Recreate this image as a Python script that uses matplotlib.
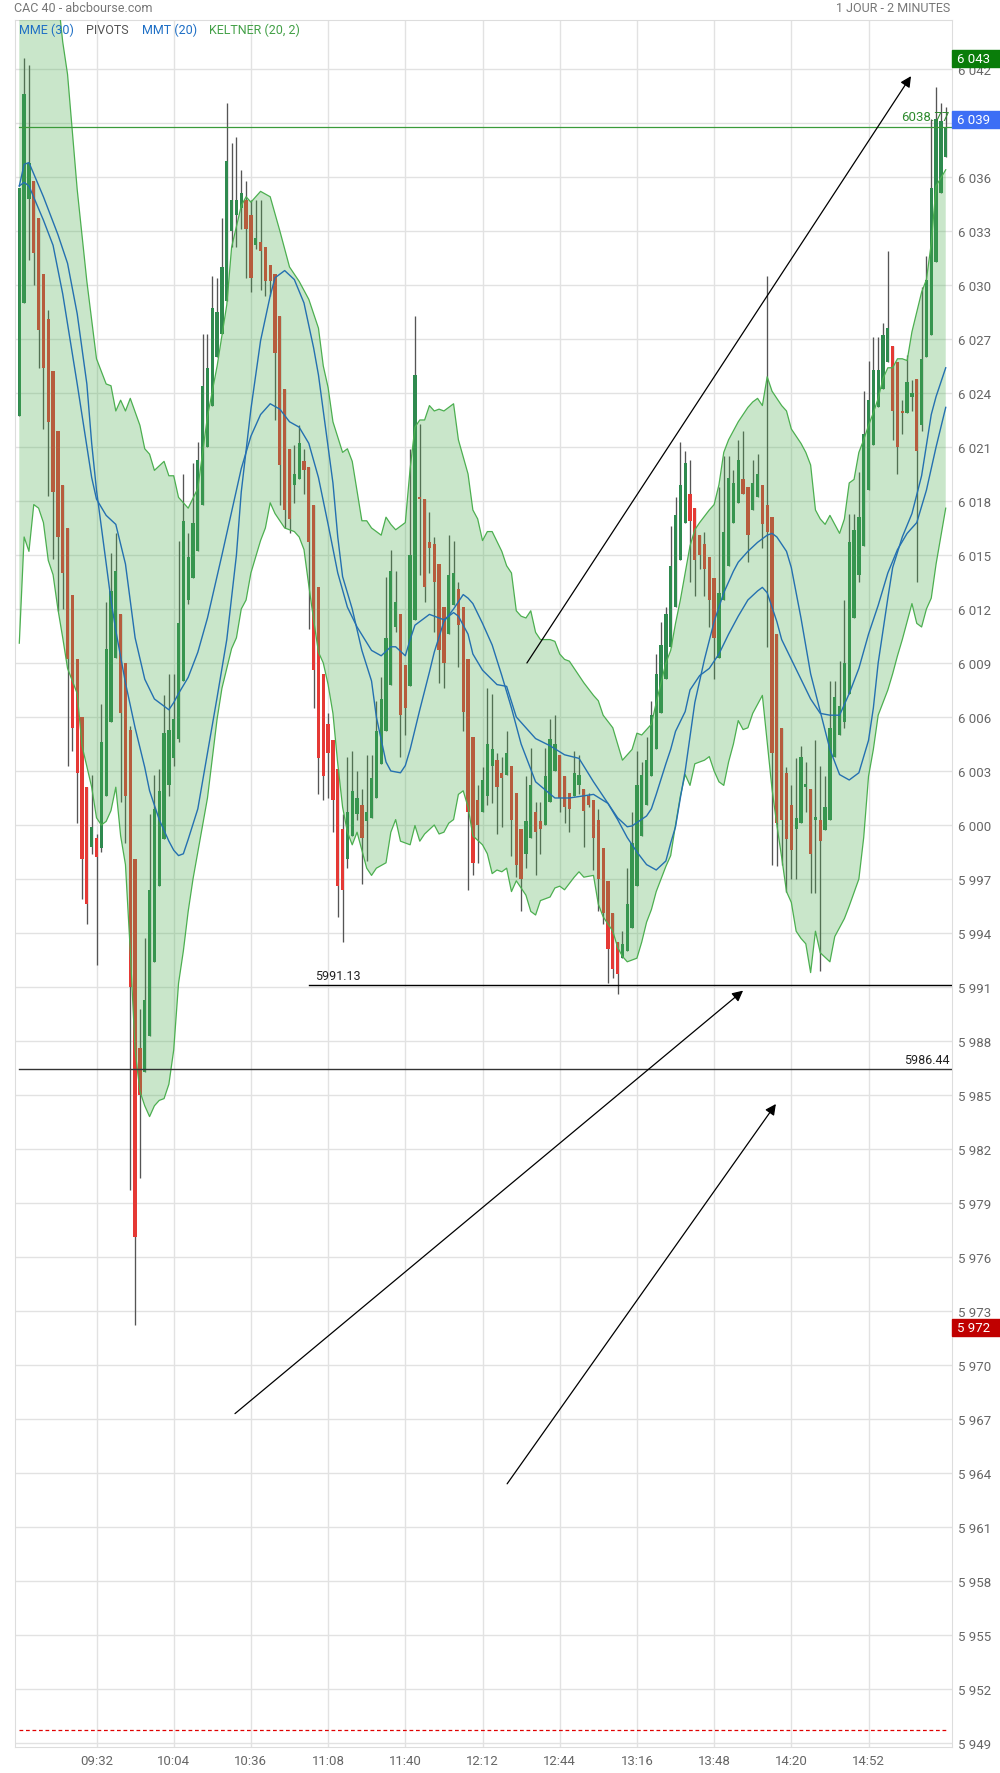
import numpy as np
import matplotlib.pyplot as plt
from matplotlib.patches import Rectangle
import matplotlib.transforms as mtransforms

plt.rcParams['font.family'] = ['Roboto', 'DejaVu Sans']

# CAC 40, bougies de 2 minutes : indice 0 = 09:00, indice 192 = 15:24
opens = [6022.7, 6029.0, 6034.8, 6035.8, 6033.7, 6030.6, 6028.1, 6025.2, 6021.9, 6018.9,
         6016.5, 6012.8, 6009.2, 6006.0, 6002.1, 5998.8, 5999.3, 5998.7, 6001.6, 6005.7,
         6009.3, 6011.7, 6009.0, 6005.3, 5998.1, 5987.6, 5986.3, 5988.3, 5992.4, 5996.6,
         5999.2, 6002.2, 6003.7, 6004.8, 6008.0, 6012.5, 6013.7, 6015.2, 6017.8, 6021.0,
         6023.3, 6026.0, 6027.3, 6029.1, 6033.0, 6033.9, 6034.3, 6034.7, 6033.9, 6032.2,
         6032.4, 6032.1, 6031.1, 6030.6, 6028.3, 6024.2, 6020.9, 6018.9, 6019.2, 6020.2,
         6019.9, 6017.8, 6013.2, 6008.4, 6005.6, 6004.7, 6003.1, 5999.8, 5998.1, 5999.4,
         6000.6, 6001.1, 6000.2, 6000.4, 6001.5, 6003.4, 6005.2, 6007.8, 6011.0, 6011.7,
         6008.9, 6007.7, 6011.4, 6018.2, 6018.1, 6015.7, 6015.6, 6014.5, 6012.1, 6010.6,
         6012.2, 6013.1, 6012.1, 6009.2, 6004.9, 6001.4, 6000.7, 6001.6, 6003.3, 6003.6,
         6002.9, 6002.8, 6003.3, 6001.8, 5999.8, 5998.4, 5999.3, 6000.7, 6000.2, 6000.0,
         6001.3, 6003.0, 6003.9, 6002.7, 6001.8, 6001.6, 6002.2, 6002.0, 6001.6, 6001.4,
         6000.3, 5998.7, 5996.9, 5995.1, 5993.5, 5992.6, 5993.0, 5994.3, 5996.6, 5999.4,
         6001.1, 6002.7, 6004.2, 6006.2, 6008.1, 6009.9, 6012.1, 6014.7, 6016.8, 6018.4,
         6017.6, 6016.1, 6015.6, 6014.9, 6013.7, 6009.3, 6012.5, 6014.4, 6016.8, 6017.9,
         6019.2, 6018.8, 6017.5, 6018.2, 6018.9, 6017.8, 6017.1, 6010.6, 6005.4, 6002.9,
         6001.1, 5999.8, 6000.1, 6002.1, 6002.0, 6000.3, 6000.3, 5999.7, 6000.3, 6003.8,
         6005.0, 6005.7, 6007.3, 6011.5, 6013.9, 6015.5, 6018.6, 6021.1, 6023.2, 6024.2,
         6025.7, 6026.6, 6025.7, 6023.0, 6022.9, 6023.8, 6024.8, 6022.2, 6026.0, 6027.2,
         6031.3, 6035.1, 6037.1]
highs = [6035.4, 6042.6, 6042.2, 6035.8, 6033.7, 6030.6, 6028.6, 6025.2, 6021.9, 6018.9,
         6016.5, 6012.8, 6009.2, 6006.0, 6002.1, 6002.8, 5999.5, 6006.7, 6012.4, 6015.1,
         6016.2, 6011.7, 6009.0, 6005.5, 5998.1, 5989.8, 5993.7, 6000.6, 6002.8, 6003.1,
         6007.2, 6008.4, 6008.4, 6015.8, 6019.5, 6016.2, 6020.1, 6021.3, 6027.3, 6027.3,
         6030.5, 6030.4, 6033.7, 6040.1, 6037.9, 6038.2, 6036.4, 6035.8, 6034.7, 6034.7,
         6034.7, 6032.1, 6031.1, 6030.6, 6028.3, 6024.2, 6020.9, 6021.1, 6022.2, 6020.9,
         6019.9, 6017.8, 6013.2, 6008.4, 6006.2, 6004.7, 6003.1, 6000.6, 6003.8, 6004.1,
         6003.0, 6002.0, 6003.9, 6003.9, 6006.9, 6008.2, 6013.8, 6015.3, 6014.1, 6011.7,
         6008.9, 6020.9, 6028.3, 6022.3, 6018.1, 6017.4, 6016.0, 6014.5, 6012.1, 6016.1,
         6015.8, 6013.5, 6012.1, 6009.2, 6004.9, 6002.2, 6003.2, 6007.6, 6007.3, 6004.0,
         6003.8, 6005.2, 6003.3, 6001.8, 5999.8, 6002.7, 6004.3, 6001.3, 6001.3, 6004.3,
         6005.9, 6006.1, 6003.9, 6002.7, 6001.8, 6004.1, 6003.9, 6002.0, 6001.8, 6001.4,
         6000.9, 5998.7, 5996.9, 5995.1, 5993.5, 5994.1, 5997.6, 6000.7, 6004.1, 6003.5,
         6004.9, 6006.9, 6009.5, 6011.3, 6012.1, 6016.6, 6018.2, 6021.3, 6020.8, 6020.3,
         6017.6, 6016.1, 6016.3, 6014.9, 6013.7, 6018.8, 6020.5, 6020.5, 6019.7, 6021.4,
         6021.9, 6018.8, 6020.3, 6020.6, 6018.9, 6030.5, 6017.1, 6010.6, 6005.4, 6003.2,
         6002.2, 6003.7, 6004.4, 6003.5, 6002.0, 6004.7, 6003.3, 6002.7, 6008.0, 6008.0,
         6009.1, 6012.5, 6017.3, 6017.3, 6019.6, 6024.1, 6025.8, 6027.1, 6027.1, 6027.9,
         6031.9, 6026.6, 6025.7, 6023.6, 6026.1, 6024.7, 6024.8, 6029.9, 6031.6, 6039.2,
         6041.0, 6040.1, 6039.9]
lows = [6022.7, 6029.0, 6031.4, 6030.0, 6025.4, 6022.0, 6018.3, 6014.8, 6011.9, 6012.0,
        6003.3, 6004.1, 6000.1, 5995.9, 5994.5, 5998.4, 5992.2, 5998.5, 6001.6, 6005.7,
        6009.3, 6001.3, 5999.0, 5979.7, 5972.2, 5980.4, 5986.3, 5988.3, 5992.4, 5996.6,
        5999.2, 6001.6, 6003.3, 6004.6, 6008.0, 6012.3, 6013.7, 6015.2, 6017.8, 6021.0,
        6023.3, 6026.0, 6027.3, 6029.1, 6032.1, 6032.1, 6033.1, 6030.4, 6029.6, 6032.0,
        6029.7, 6029.4, 6029.4, 6022.5, 6017.8, 6016.5, 6016.2, 6017.9, 6019.2, 6018.4,
        6010.9, 6006.5, 6001.7, 6001.4, 6001.5, 5999.6, 5994.9, 5993.5, 5997.6, 5999.4,
        6000.3, 5996.7, 5998.0, 6000.4, 6001.5, 6003.4, 6005.2, 6007.8, 6010.7, 6003.8,
        6005.0, 6007.7, 6011.4, 6013.9, 6012.4, 6014.0, 6010.7, 6007.9, 6007.6, 6010.6,
        6012.2, 6008.8, 6005.2, 5996.4, 5997.2, 5997.9, 6000.7, 6001.1, 6001.2, 5999.5,
        5999.9, 6002.8, 5998.3, 5997.1, 5995.2, 5997.6, 5999.3, 5997.2, 5998.4, 6000.0,
        6001.3, 6003.0, 6000.7, 6000.1, 5999.6, 6001.6, 6001.7, 5998.8, 6001.0, 5997.5,
        5995.2, 5994.5, 5991.2, 5991.5, 5990.6, 5992.6, 5993.0, 5994.3, 5996.6, 5999.4,
        6001.1, 6002.7, 6004.2, 6006.2, 6008.1, 6009.9, 6012.1, 6014.7, 6016.8, 6013.5,
        6012.7, 6014.2, 6012.7, 6011.0, 6008.1, 6009.3, 6012.5, 6014.4, 6016.8, 6017.9,
        6018.4, 6014.6, 6017.5, 6018.2, 6015.4, 6009.9, 5997.8, 5997.7, 5997.8, 5996.3,
        5997.0, 5997.0, 6000.1, 6000.7, 5996.2, 5996.2, 5991.9, 5999.7, 6000.3, 6003.8,
        6005.0, 6005.4, 6007.3, 6011.5, 6013.5, 6015.5, 6018.6, 6021.1, 6023.2, 6024.2,
        6025.7, 6021.4, 6019.5, 6021.7, 6022.9, 6023.0, 6013.5, 6021.9, 6026.0, 6027.2,
        6031.3, 6035.1, 6037.1]
closes = [6035.4, 6040.6, 6036.8, 6031.8, 6027.5, 6025.4, 6022.4, 6018.5, 6016.0, 6014.0,
          6009.2, 6005.4, 6002.9, 5998.1, 5995.6, 5999.9, 5998.2, 6004.6, 6009.8, 6013.0,
          6014.1, 6006.2, 6001.6, 5991.0, 5977.1, 5985.0, 5990.3, 5996.4, 6000.9, 6001.9,
          6005.1, 6005.3, 6005.9, 6011.2, 6016.9, 6014.9, 6016.8, 6020.3, 6024.4, 6025.4,
          6028.7, 6028.5, 6031.0, 6036.9, 6034.7, 6034.7, 6035.1, 6033.1, 6030.4, 6032.6,
          6031.9, 6030.2, 6030.2, 6026.2, 6020.0, 6017.5, 6017.0, 6019.5, 6021.2, 6019.7,
          6015.7, 6008.6, 6003.7, 6002.7, 6004.0, 6001.4, 5996.6, 5996.4, 6000.7, 6001.9,
          6001.5, 5999.3, 6000.7, 6002.6, 6005.2, 6007.0, 6010.4, 6014.1, 6012.4, 6006.1,
          6006.5, 6015.0, 6025.0, 6018.1, 6013.2, 6015.4, 6013.5, 6009.7, 6009.0, 6013.9,
          6014.0, 6011.1, 6006.3, 6000.7, 5997.9, 6000.0, 6002.5, 6004.5, 6004.2, 6002.1,
          6002.6, 6004.0, 6000.3, 5997.8, 5997.0, 6000.2, 6002.2, 5999.6, 5999.8, 6002.7,
          6004.8, 6004.5, 6001.5, 6001.0, 6000.9, 6002.9, 6002.8, 6000.8, 6001.1, 5999.3,
          5997.0, 5995.1, 5993.1, 5992.0, 5991.7, 5993.4, 5995.6, 5999.0, 6002.2, 6002.8,
          6003.6, 6006.1, 6008.4, 6010.0, 6011.7, 6014.4, 6017.2, 6018.9, 6020.1, 6016.9,
          6014.7, 6015.0, 6014.2, 6012.5, 6010.4, 6012.9, 6016.3, 6019.3, 6019.0, 6020.3,
          6018.4, 6016.1, 6019.0, 6019.5, 6016.7, 6016.3, 6004.0, 6000.1, 6000.3, 5999.2,
          5998.6, 6000.4, 6003.8, 6002.3, 5998.4, 6000.4, 5999.1, 6001.0, 6005.4, 6007.1,
          6006.6, 6009.0, 6015.7, 6016.4, 6017.1, 6021.7, 6023.6, 6025.3, 6025.3, 6027.2,
          6027.6, 6023.0, 6021.0, 6022.9, 6024.6, 6024.0, 6020.8, 6025.9, 6030.3, 6035.4,
          6039.2, 6039.1, 6038.8]

# MMT (20)
mmt_x = [0, 1, 2, 5, 8, 10, 12, 14, 15, 16, 19, 20, 22, 24, 26, 27, 29, 31, 32, 33,
         34, 35, 37, 39, 41, 43, 45, 46, 48, 50, 52, 53, 55, 57, 59, 61, 62, 64, 65, 66,
         67, 69, 71, 73, 74, 76, 77, 79, 80, 81, 83, 85, 86, 88, 90, 92, 93, 94, 96, 98,
         100, 102, 104, 107, 111, 114, 119, 122, 124, 126, 128, 130, 132, 134, 135, 136, 137, 138, 140, 142,
         144, 146, 148, 149, 151, 153, 155, 156, 157, 159, 160, 162, 164, 166, 168, 170, 172, 174, 176, 177,
         178, 179, 180, 181, 183, 185, 187, 189, 190, 192]
mmt_y = [6035.5, 6036.7, 6036.8, 6034.9, 6032.8, 6031.2, 6028.4, 6024.5, 6021.2, 6018.6,
         6012.5, 6010.8, 6007.9, 6005.4, 6003.2, 6001.9, 6000.3, 5999.1, 5998.6, 5998.3,
         5998.4, 5999.2, 6000.9, 6004.0, 6007.1, 6010.3, 6015.0, 6018.5, 6023.1, 6026.9,
         6029.4, 6030.4, 6030.8, 6030.3, 6029.0, 6026.5, 6025.0, 6021.0, 6019.0, 6016.0,
         6013.8, 6012.0, 6009.7, 6008.0, 6006.0, 6003.5, 6003.0, 6002.9, 6003.3, 6004.2,
         6006.4, 6008.5, 6009.6, 6011.3, 6012.0, 6012.8, 6012.6, 6012.3, 6011.2, 6010.0,
         6008.3, 6006.5, 6004.5, 6002.4, 6001.5, 6001.5, 6001.7, 6001.2, 6000.3, 5999.3,
         5998.5, 5997.8, 5997.5, 5998.0, 5999.0, 5999.9, 6001.5, 6003.0, 6006.8, 6009.2,
         6011.3, 6012.9, 6014.1, 6014.6, 6015.2, 6015.7, 6016.1, 6016.2, 6016.0, 6015.2,
         6014.3, 6011.5, 6008.4, 6006.3, 6004.2, 6002.8, 6002.5, 6002.9, 6004.7, 6006.5,
         6009.0, 6010.8, 6012.6, 6014.3, 6016.0, 6017.3, 6019.4, 6022.8, 6023.8, 6025.4]

# MME (30)
mme_x = [0, 1, 2, 5, 7, 9, 12, 15, 16, 18, 20, 22, 24, 26, 28, 30, 31, 32, 33, 35,
         37, 39, 42, 44, 46, 48, 50, 52, 54, 56, 58, 60, 62, 63, 64, 66, 68, 70, 73, 75,
         77, 78, 80, 81, 82, 84, 85, 87, 88, 90, 91, 93, 94, 96, 99, 101, 103, 107, 110, 113,
         116, 119, 121, 124, 126, 127, 130, 131, 132, 134, 135, 136, 138, 139, 141, 143, 145, 147, 149, 151,
         153, 154, 155, 157, 158, 160, 162, 164, 166, 168, 170, 172, 174, 176, 178, 180, 182, 184, 186, 188,
         190, 192]
mme_y = [6035.5, 6035.7, 6035.5, 6033.6, 6032.2, 6029.5, 6024.5, 6019.3, 6018.1, 6017.2,
         6016.7, 6014.5, 6010.4, 6008.1, 6007.0, 6006.6, 6006.4, 6006.8, 6007.3, 6008.2,
         6009.6, 6011.5, 6015.0, 6017.4, 6019.8, 6021.6, 6022.8, 6023.4, 6023.1, 6022.4,
         6022.1, 6021.2, 6019.3, 6018.0, 6016.7, 6014.0, 6012.1, 6011.0, 6009.7, 6009.4,
         6009.9, 6009.9, 6009.4, 6010.3, 6011.1, 6011.5, 6011.7, 6011.5, 6011.4, 6011.8,
         6011.6, 6010.6, 6009.5, 6008.6, 6007.8, 6007.7, 6006.0, 6004.8, 6004.4, 6003.9,
         6003.7, 6002.4, 6001.6, 6000.4, 5999.9, 5999.95, 6000.5, 6000.9, 6001.7, 6003.4,
         6004.2, 6005.2, 6006.3, 6007.5, 6008.3, 6008.7, 6009.5, 6010.6, 6011.6, 6012.5,
         6013.0, 6013.2, 6012.9, 6011.3, 6010.3, 6009.2, 6008.1, 6007.0, 6006.2, 6006.1,
         6006.1, 6007.3, 6008.7, 6010.6, 6012.2, 6014.0, 6015.3, 6016.2, 6016.8, 6018.6,
         6021.0, 6023.2]

# Keltner (20, 2) : bande haute (le début sort du cadre) et bande basse
kh_x = [0, 4, 8, 9, 10, 12, 14, 16, 18, 19, 20, 21, 22, 23, 25, 26, 27, 28, 30, 31,
        32, 33, 35, 37, 39, 41, 43, 44, 46, 47, 48, 50, 52, 54, 56, 58, 60, 62, 63, 64,
        65, 67, 68, 69, 71, 72, 73, 75, 76, 77, 78, 80, 81, 82, 83, 84, 85, 86, 87, 88,
        89, 90, 91, 93, 94, 95, 96, 97, 98, 100, 101, 102, 103, 104, 105, 106, 107, 108, 110, 111,
        112, 113, 114, 115, 117, 119, 120, 121, 123, 124, 125, 126, 127, 128, 129, 131, 132, 133, 134, 135,
        136, 137, 138, 139, 140, 141, 143, 144, 145, 146, 147, 149, 151, 152, 153, 154, 155, 156, 158, 159,
        160, 161, 162, 163, 164, 165, 166, 167, 168, 169, 170, 171, 172, 173, 174, 175, 176, 177, 178, 179,
        180, 181, 182, 183, 184, 185, 187, 188, 189, 190, 192]
kh_y = [6062.0, 6055.0, 6046.0, 6043.5, 6041.7, 6035.3, 6030.2, 6025.9, 6024.5, 6024.4,
        6023.0, 6023.6, 6023.0, 6023.7, 6022.2, 6020.9, 6020.6, 6019.7, 6020.2, 6019.4,
        6019.4, 6018.2, 6017.6, 6018.7, 6022.7, 6025.5, 6028.9, 6032.1, 6034.4, 6034.9,
        6034.6, 6035.2, 6034.9, 6033.0, 6031.0, 6030.2, 6029.2, 6027.6, 6025.5, 6024.3,
        6022.4, 6020.7, 6020.9, 6020.2, 6016.9, 6016.9, 6016.5, 6016.1, 6017.1, 6016.7,
        6016.4, 6016.8, 6019.8, 6022.1, 6022.5, 6022.5, 6023.3, 6023.0, 6023.1, 6023.0,
        6023.2, 6023.4, 6021.4, 6019.5, 6017.5, 6017.0, 6015.8, 6016.3, 6016.3, 6015.2,
        6014.4, 6014.0, 6011.9, 6011.6, 6011.5, 6011.9, 6010.7, 6010.3, 6010.3, 6010.2,
        6009.5, 6009.2, 6009.1, 6008.7, 6007.9, 6007.2, 6006.9, 6006.1, 6005.4, 6004.5,
        6003.6, 6003.9, 6004.2, 6005.1, 6005.0, 6005.6, 6006.8, 6007.9, 6009.0, 6009.7,
        6011.2, 6012.5, 6014.0, 6015.5, 6016.4, 6016.8, 6017.5, 6017.8, 6018.9, 6020.7,
        6021.4, 6022.4, 6023.2, 6023.5, 6023.7, 6023.3, 6024.9, 6024.1, 6023.3, 6023.0,
        6022.0, 6021.6, 6021.2, 6020.7, 6020.0, 6017.5, 6017.0, 6016.7, 6017.2, 6016.7,
        6016.2, 6017.0, 6019.0, 6019.2, 6020.7, 6021.4, 6022.2, 6022.9, 6023.7, 6024.8,
        6025.4, 6025.4, 6025.9, 6025.9, 6025.8, 6027.4, 6029.6, 6030.3, 6032.3, 6035.5,
        6036.4]
kb_x = [0, 1, 2, 3, 4, 5, 6, 7, 8, 9, 10, 12, 13, 15, 16, 17, 18, 19, 20, 21,
        22, 23, 24, 25, 26, 27, 28, 29, 30, 31, 32, 33, 34, 35, 36, 37, 39, 41, 42, 44,
        45, 46, 47, 48, 50, 51, 52, 53, 55, 57, 58, 59, 60, 61, 62, 63, 64, 65, 66, 67,
        68, 69, 70, 71, 72, 73, 74, 76, 77, 78, 79, 81, 82, 83, 84, 86, 87, 88, 89, 90,
        91, 92, 93, 94, 96, 97, 98, 99, 100, 101, 102, 103, 105, 106, 107, 108, 110, 111, 112, 113,
        115, 116, 117, 119, 120, 121, 123, 124, 125, 126, 128, 129, 130, 131, 132, 133, 134, 135, 136, 137,
        138, 139, 140, 142, 143, 144, 145, 146, 147, 148, 149, 150, 151, 152, 154, 155, 156, 157, 158, 159,
        160, 161, 162, 163, 164, 165, 166, 168, 169, 171, 172, 174, 175, 176, 177, 178, 179, 180, 181, 182,
        183, 184, 185, 186, 187, 188, 189, 190, 192]
kb_y = [6010.1, 6016.0, 6015.2, 6017.8, 6017.6, 6016.8, 6014.7, 6013.9, 6012.0, 6010.4,
        6008.7, 6007.3, 6004.4, 6002.1, 6000.4, 6000.0, 6000.2, 6000.8, 6002.1, 5999.4,
        5997.8, 5993.0, 5987.5, 5985.2, 5984.4, 5983.8, 5984.4, 5984.7, 5984.8, 5985.6,
        5987.5, 5991.2, 5993.0, 5995.2, 5997.0, 5998.5, 6001.5, 6005.9, 6007.6, 6009.8,
        6010.4, 6012.0, 6012.5, 6014.0, 6015.8, 6016.5, 6017.9, 6017.3, 6016.5, 6016.3,
        6016.0, 6015.3, 6013.3, 6011.4, 6009.6, 6009.0, 6007.8, 6006.2, 6003.4, 6001.0,
        5999.6, 5998.9, 5999.6, 5998.6, 5997.6, 5997.2, 5997.6, 5997.9, 5999.6, 6000.3,
        5999.1, 5998.9, 5999.97, 5999.1, 5999.5, 6000.0, 5999.5, 5999.6, 6000.1, 6000.3,
        6001.7, 6001.9, 6001.0, 5999.4, 5998.9, 5998.4, 5997.3, 5997.5, 5997.4, 5997.6,
        5996.3, 5996.9, 5996.1, 5995.2, 5995.0, 5995.8, 5996.0, 5996.5, 5996.6, 5996.4,
        5997.1, 5997.4, 5997.1, 5997.2, 5995.6, 5994.9, 5994.1, 5993.2, 5992.7, 5992.4,
        5992.6, 5993.5, 5994.6, 5995.3, 5996.3, 5997.0, 5997.7, 5998.3, 6000.0, 6001.6,
        6002.8, 6002.2, 6003.4, 6003.6, 6003.8, 6003.0, 6002.4, 6002.2, 6003.5, 6004.5,
        6005.8, 6005.3, 6005.4, 6006.2, 6007.2, 6004.6, 6002.0, 6000.0, 5998.2, 5996.3,
        5995.7, 5994.1, 5993.7, 5993.4, 5991.8, 5994.1, 5992.9, 5992.4, 5993.8, 5994.8,
        5995.5, 5997.0, 5999.3, 6002.7, 6004.2, 6006.1, 6006.8, 6007.5, 6008.4, 6009.4,
        6010.3, 6011.3, 6012.3, 6011.2, 6011.0, 6012.0, 6012.6, 6014.5, 6017.6]

# niveaux tracés à la main
dernier = 6038.77
niveau_haut = 5991.13
niveau_bas = 5986.44
pivot = 5949.7
plus_haut = 6042.6
plus_bas = 5972.1

# flèches (début, fin) en (indice, cours)
fleches = [((105.2, 6009.0), (184.8, 6041.6)),
           ((44.7, 5967.3), (150.0, 5990.8)),
           ((101.1, 5963.4), (156.8, 5984.5))]

# axes
yticks = list(range(5949, 6043, 3))
xticks = [16, 32, 48, 64, 80, 96, 112, 128, 144, 160, 176]
xlabels = ["09:32", "10:04", "10:36", "11:08", "11:40", "12:12",
           "12:44", "13:16", "13:48", "14:20", "14:52"]

vert = '#2f8a4f'
rouge = '#e53935'

fig = plt.figure(figsize=(10, 17.74), dpi=100)
ax = fig.add_axes([0.0145, 0.01466, 0.9375, 0.97351])
ax.set_xlim(-0.995, 193.3)
ax.set_ylim(5948.78, 6044.72)

# bougies
idx = np.arange(len(closes))
o = np.array(opens)
c = np.array(closes)
couleurs = np.where(c >= o, vert, rouge)
ax.vlines(idx, lows, highs, color='#555555', linewidth=0.95, zorder=2)
hauteur = np.maximum(np.abs(c - o), 0.12)
ax.bar(idx, hauteur, bottom=np.minimum(o, c), width=0.68, color=couleurs,
       linewidth=0, zorder=3)

# canal de Keltner, transparent par-dessus les bougies
poly_x = kh_x + kb_x[::-1]
poly_y = kh_y + kb_y[::-1]
ax.fill(poly_x, poly_y, color='#4caf50', alpha=0.3, linewidth=0, zorder=4)
ax.plot(kh_x, kh_y, color='#4caf50', linewidth=0.9, zorder=5)
ax.plot(kb_x, kb_y, color='#4caf50', linewidth=0.9, zorder=5)

# moyennes mobiles
ax.plot(mmt_x, mmt_y, color='#2470b0', linewidth=1.0, zorder=6)
ax.plot(mme_x, mme_y, color='#2470b0', linewidth=1.0, zorder=6)

# lignes horizontales
ax.plot([0, 193.3], [dernier, dernier], color='#3a9a3a', linewidth=0.9, zorder=6)
ax.text(192.7, dernier + 0.2, "6038.77", color='#2e8b2e', fontsize=9.5,
        ha='right', va='bottom', zorder=7)
ax.plot([60, 193.3], [niveau_haut, niveau_haut], color='black', linewidth=1.0, zorder=6)
ax.text(61.2, niveau_haut + 0.15, "5991.13", color='#222222', fontsize=9,
        ha='left', va='bottom', zorder=7)
ax.plot([0, 193.3], [niveau_bas, niveau_bas], color='#333333', linewidth=1.0, zorder=6)
ax.text(192.7, niveau_bas + 0.15, "5986.44", color='#222222', fontsize=9,
        ha='right', va='bottom', zorder=7)
ax.plot([0, 192.2], [pivot, pivot], color='#e00000', linewidth=0.9,
        dashes=(3, 2.2), zorder=6)

for debut, fin in fleches:
    ax.annotate('', xy=fin, xytext=debut, zorder=8,
                arrowprops=dict(arrowstyle='-|>', color='black', lw=0.9,
                                mutation_scale=16, shrinkA=0, shrinkB=0))

# grille et axes ; la graduation 6 039 est cachée par l'étiquette du dernier cours
ax.set_yticks(yticks)
ax.set_yticklabels(["" if v == 6039 else f"{v:,}".replace(",", " ") for v in yticks])
ax.set_xticks(xticks)
ax.set_xticklabels(xlabels)
ax.yaxis.tick_right()
ax.tick_params(axis='y', length=0, pad=4, labelsize=9.5, labelcolor='#666666')
ax.tick_params(axis='x', length=0, pad=5, labelsize=9.5, labelcolor='#666666')
ax.grid(True, color='#e2e2e2', linewidth=1.0, zorder=0)
ax.set_axisbelow(True)
for s in ax.spines.values():
    s.set_color('#dddddd')

# étiquettes colorées à droite
trans = mtransforms.blended_transform_factory(ax.transAxes, ax.transData)
for val, txt, coul in [(plus_haut, "6 043", '#0a7d0a'),
                       (6039.2, "6 039", '#3d6ef5'),
                       (plus_bas, "5 972", '#c00000')]:
    ax.add_patch(Rectangle((1.0005, val - 0.47), 0.052, 0.94, transform=trans,
                           color=coul, clip_on=False, zorder=10))
    ax.text(1.0055, val, txt, transform=trans, color='white', fontsize=9.5,
            va='center', ha='left', zorder=11)

# en-tête et légende
fig.text(0.014, 1 - 9 / 1774, "CAC 40 - abcbourse.com", color='#777777',
         fontsize=9, va='center', ha='left')
fig.text(0.950, 1 - 9 / 1774, "1 JOUR - 2 MINUTES", color='#777777',
         fontsize=9, va='center', ha='right')
for x, txt, coul in [(19, "MME (30)", '#1e6fc5'), (86, "PIVOTS", '#555555'),
                     (142, "MMT (20)", '#1e6fc5'), (209, "KELTNER (20, 2)", '#43a047')]:
    fig.text(x / 1000, 1 - 30 / 1774, txt, color=coul, fontsize=9,
             va='center', ha='left')

plt.savefig("out.png", dpi=100)
